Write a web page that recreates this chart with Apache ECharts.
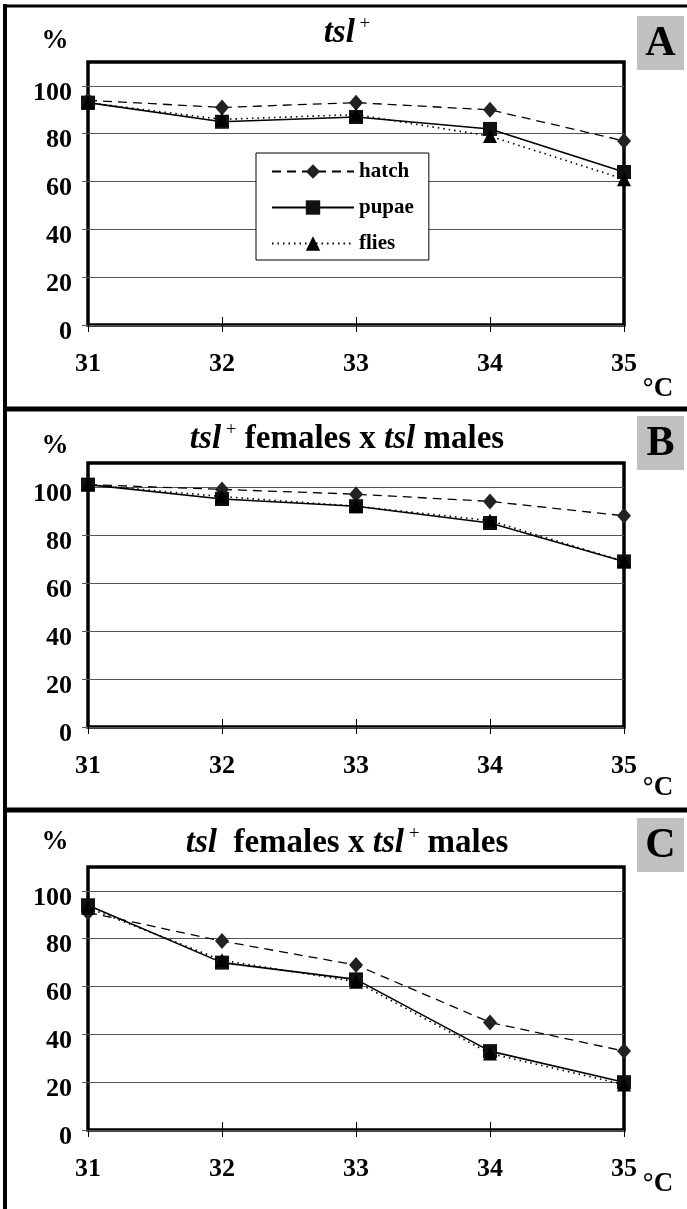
<!DOCTYPE html>
<html><head><meta charset="utf-8">
<script src="https://cdn.jsdelivr.net/npm/echarts@6/dist/echarts.min.js"></script>
<style>html,body{margin:0;padding:0;background:#fff}#c{width:687px;height:1209px}</style>
</head><body><div id="c"></div>
<script>
// ---- data ----
const temps = [31, 32, 33, 34, 35];
const yTicks = [0, 20, 40, 60, 80, 100];
const seriesNames = ['hatch', 'pupae', 'flies'];
const hatchA = [94, 91, 93, 90, 77];
const pupaeA = [93, 85, 87, 82, 64];
const fliesA = [93, 86, 88, 79, 61];
const hatchB = [101, 99, 97, 94, 88];
const pupaeB = [101, 95, 92, 85, 69];
const fliesB = [101, 96, 92, 86, 69];
const hatchC = [91, 79, 69, 45, 33];
const pupaeC = [94, 70, 63, 33, 20];
const fliesC = [93, 71, 62, 32, 19];
const panelLetters = ['A', 'B', 'C'];
const panelTitles = [
  '{i|tsl}{s| +}',
  '{i|tsl}{s| +}{b| females x }{i|tsl}{b| males}',
  '{i|tsl}{b|  females x }{i|tsl}{s| +}{b| males}'
];
const unitY = '%';
const unitX = '°C';

// ---- layout ----
const FONT = '"Liberation Serif","Times New Roman",serif';
const panels = [
  { top: 62, height: 263, titleY: 33, pctY: 41, boxY: 16, unitXY: 389, data: [hatchA, pupaeA, fliesA] },
  { top: 463, height: 264, titleY: 439, pctY: 446, boxY: 416, unitXY: 788, data: [hatchB, pupaeB, fliesB] },
  { top: 867, height: 263, titleY: 843, pctY: 842, boxY: 818, unitXY: 1184, data: [hatchC, pupaeC, fliesC] }
];

const styles = [
  { symbol: 'diamond', symbolSize: [14, 16], line: { type: [9, 6], width: 1.3, color: '#000' }, item: '#222' },
  { symbol: 'rect', symbolSize: 14, line: { type: 'solid', width: 1.6, color: '#000' }, item: '#111' },
  { symbol: 'triangle', symbolSize: 14, line: { type: [1.5, 4], width: 1.6, color: '#000' }, item: '#000' }
];

const grid = [], xAxis = [], yAxis = [], series = [], graphic = [];
const rich = {
  i: { fontFamily: FONT, fontSize: 33, fontWeight: 'bold', fontStyle: 'italic', color: '#000' },
  b: { fontFamily: FONT, fontSize: 33, fontWeight: 'bold', color: '#000' },
  s: { fontFamily: FONT, fontSize: 19, color: '#000', padding: [0, 0, 18, 0] }
};

panels.forEach((p, k) => {
  grid.push({ left: 88, width: 536, top: p.top, height: p.height, show: true,
    borderColor: '#000', borderWidth: 3.5, backgroundColor: 'transparent' });
  xAxis.push({
    gridIndex: k, type: 'value', position: 'bottom', min: temps[0], max: temps[temps.length - 1], interval: 1,
    axisLine: { show: false },
    axisTick: { show: true, inside: false, length: 7, lineStyle: { color: '#000', width: 1 } },
    axisLabel: { fontFamily: FONT, fontSize: 26, fontWeight: 'bold', color: '#000', margin: 26 },
    splitLine: { show: false }
  });
  yAxis.push({
    gridIndex: k, type: 'value', min: 0, max: 110, interval: 20,
    axisLine: { show: false },
    axisTick: { show: true, length: 6, customValues: yTicks, lineStyle: { color: '#555', width: 1 } },
    axisLabel: { color: '#000', margin: 16, customValues: yTicks,
      formatter: '{v|{value}}',
      rich: { v: { fontFamily: FONT, fontSize: 26, fontWeight: 'bold', color: '#000', padding: [14, 0, 0, 0] } } },
    splitLine: { show: true, lineStyle: { color: '#555', width: 1 } }
  });
  seriesNames.forEach((name, j) => {
    const st = styles[j];
    series.push({
      name, type: 'line', xAxisIndex: k, yAxisIndex: k,
      data: temps.map((t, i) => [t, p.data[j][i]]),
      symbol: st.symbol, symbolSize: st.symbolSize, showSymbol: true,
      lineStyle: st.line, itemStyle: { color: st.item, borderWidth: 0 },
      z: 3 + j, animation: false, silent: true
    });
  });
  graphic.push({ type: 'text', x: 347, y: p.titleY, style: { text: panelTitles[k], rich, align: 'center', verticalAlign: 'middle' } });
  graphic.push({ type: 'text', x: 55, y: p.pctY, style: { text: unitY, font: 'bold 27px ' + FONT, fill: '#000', align: 'center', verticalAlign: 'middle' } });
  graphic.push({ type: 'rect', shape: { x: 637, y: p.boxY, width: 47, height: 54 }, style: { fill: '#c0c0c0' } });
  graphic.push({ type: 'text', x: 660.5, y: p.boxY + 28, style: { text: panelLetters[k], font: 'bold 42px ' + FONT, fill: '#000', align: 'center', verticalAlign: 'middle' } });
  graphic.push({ type: 'text', x: 658, y: p.unitXY, style: { text: unitX, font: 'bold 27px ' + FONT, fill: '#000', align: 'center', verticalAlign: 'middle' } });
});
// overlay axes: inner half of the crossing x ticks
panels.forEach((p, k) => {
  xAxis.push({
    gridIndex: k, type: 'value', position: 'bottom', min: temps[0], max: temps[temps.length - 1], interval: 1,
    axisLine: { show: false }, axisLabel: { show: false }, splitLine: { show: false },
    axisTick: { show: true, inside: true, length: 8, lineStyle: { color: '#000', width: 1 } }
  });
});
// panel frame lines
graphic.push({ type: 'line', shape: { x1: 3, y1: 6, x2: 687, y2: 6 }, style: { stroke: '#000', lineWidth: 3 } });
graphic.push({ type: 'line', shape: { x1: 5, y1: 4, x2: 5, y2: 1209 }, style: { stroke: '#000', lineWidth: 4 } });
graphic.push({ type: 'line', shape: { x1: 3, y1: 409, x2: 687, y2: 409 }, style: { stroke: '#000', lineWidth: 5 } });
graphic.push({ type: 'line', shape: { x1: 3, y1: 810, x2: 687, y2: 810 }, style: { stroke: '#000', lineWidth: 5 } });

const chart = echarts.init(document.getElementById('c'), null, { renderer: 'canvas' });
chart.setOption({
  animation: false,
  backgroundColor: '#fff',
  grid, xAxis, yAxis, series, graphic,
  legend: {
    data: seriesNames, orient: 'vertical', left: 256, top: 153,
    backgroundColor: '#fff', borderColor: '#000', borderWidth: 1,
    padding: [8, 15, 6, 15], itemWidth: 82, itemHeight: 18, itemGap: 15,
    textStyle: { fontFamily: FONT, fontSize: 21, fontWeight: 'bold', color: '#000' },
    selectedMode: false, z: 10
  }
});
</script></body></html>
